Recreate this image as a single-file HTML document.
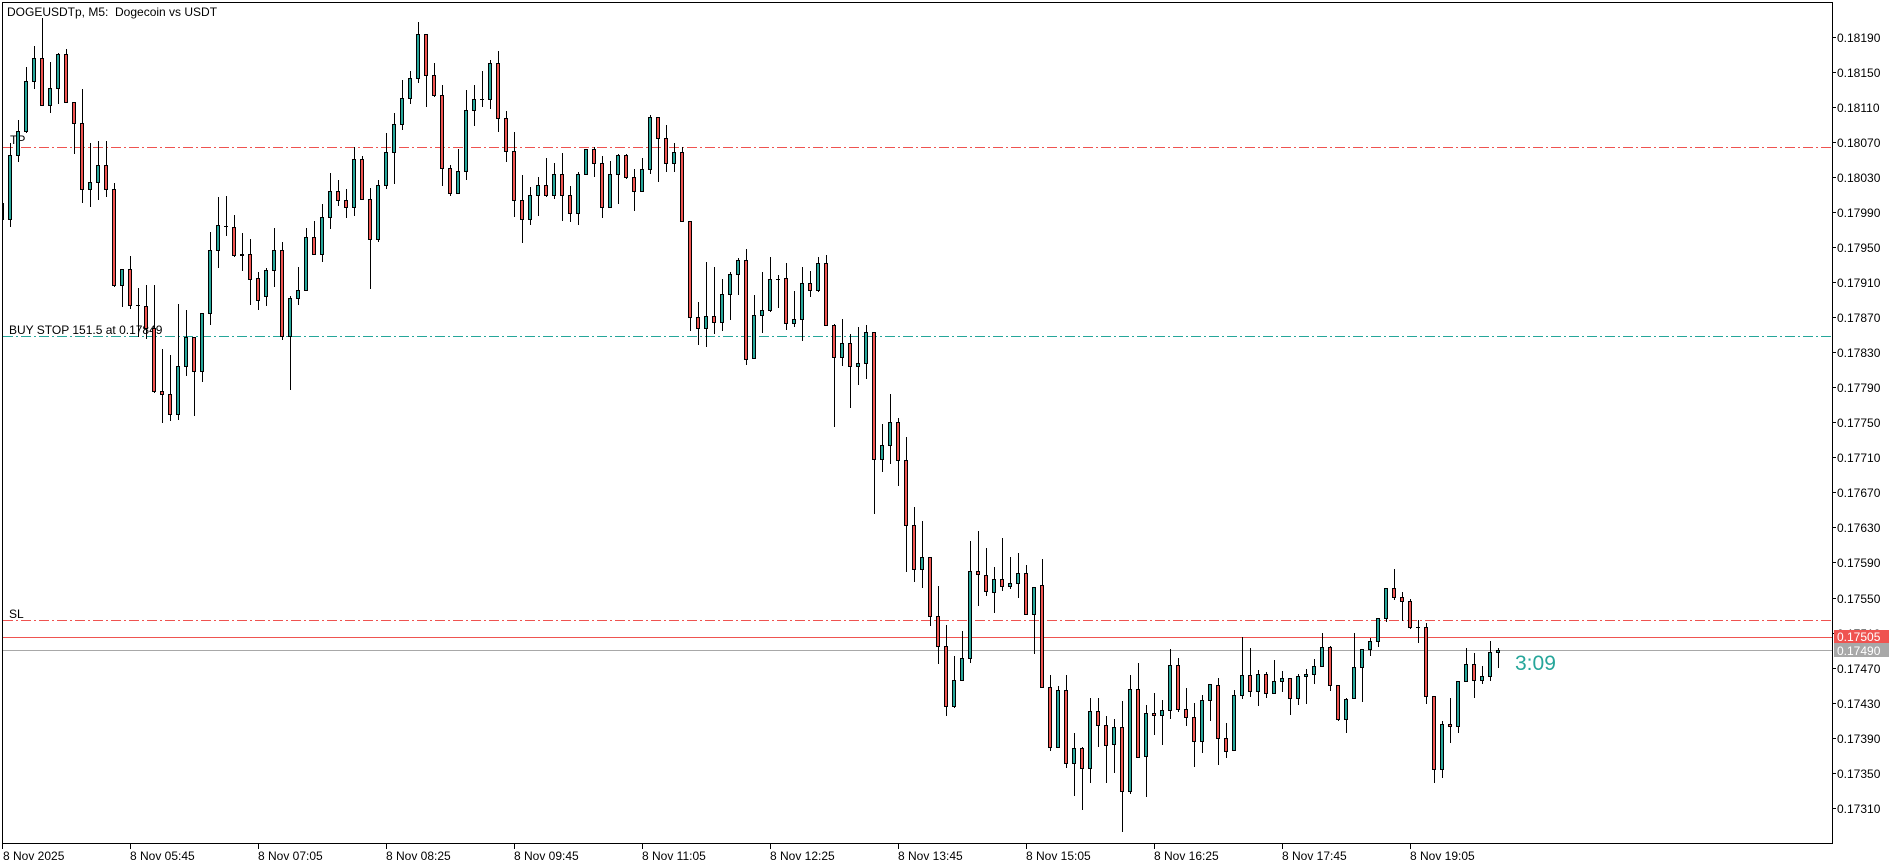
<!DOCTYPE html>
<html>
<head>
<meta charset="utf-8">
<style>
html,body{margin:0;padding:0;background:#fff;}
svg{display:block;}
text{font-family:"Liberation Sans",sans-serif;}
</style>
</head>
<body>
<svg width="1902" height="867" viewBox="0 0 1902 867" xmlns="http://www.w3.org/2000/svg">
<rect x="0" y="0" width="1902" height="867" fill="#fff"/>
<defs><clipPath id="pc"><rect x="3" y="3" width="1829" height="840"/></clipPath></defs>

<!-- level lines -->
<g shape-rendering="crispEdges">
<line x1="3" y1="147.5" x2="1832" y2="147.5" stroke="#ef5350" stroke-width="1" stroke-dasharray="10 3 2 3"/>
<line x1="3" y1="336.5" x2="1832" y2="336.5" stroke="#26a69a" stroke-width="1" stroke-dasharray="10 3 2 3"/>
<line x1="3" y1="620.5" x2="1832" y2="620.5" stroke="#ef5350" stroke-width="1" stroke-dasharray="10 3 2 3"/>
<line x1="3" y1="637.5" x2="1832" y2="637.5" stroke="#ef5350" stroke-width="1"/>
<line x1="3" y1="650.5" x2="1832" y2="650.5" stroke="#a8a8a8" stroke-width="1"/>
</g>

<!-- level labels -->
<text x="10" y="144" font-size="12" fill="#000">TP</text>
<text x="9" y="334" font-size="12" fill="#000">BUY STOP 151.5 at 0.17849</text>
<text x="9" y="618" font-size="12" fill="#000">SL</text>

<g clip-path="url(#pc)" shape-rendering="crispEdges">
<!-- wicks -->
<path fill="none" stroke="#000" stroke-width="1" d="M2.5 196V224M10.5 143V227M18.5 120V162M26.5 67V133M34.5 46V89M42.5 18V105M50.5 62V113M58.5 53V104M66.5 49V102M74.5 102V154M82.5 89V203M90.5 143V207M98.5 141V200M106.5 141V197M114.5 183V287M122.5 269V307M130.5 256V309M138.5 288V337M146.5 285V339M154.5 285V393M162.5 349V423M170.5 355V421M178.5 304V420M186.5 310V376M194.5 337V416M202.5 313V382M210.5 232V325M218.5 197V268M226.5 196V236M234.5 215V257M242.5 233V271M250.5 239V305M258.5 272V310M266.5 268V306M274.5 228V287M282.5 242V340M290.5 296V390M298.5 267V305M306.5 228V290M314.5 221V255M322.5 204V262M330.5 173V229M338.5 180V206M346.5 189V218M354.5 147V216M362.5 156V199M370.5 188V289M378.5 180V242M386.5 133V189M394.5 113V184M402.5 80V130M410.5 71V104M418.5 22V83M426.5 34V107M434.5 63V97M442.5 85V186M450.5 165V196M458.5 149V193M466.5 90V180M474.5 85V126M482.5 71V107M490.5 60V109M498.5 51V132M506.5 111V162M514.5 132V217M522.5 175V243M530.5 187V225M538.5 177V216M546.5 158V197M554.5 163V199M562.5 153V221M570.5 186V222M578.5 172V225M586.5 149V174M594.5 147V177M602.5 156V218M610.5 161V208M618.5 154V204M626.5 154V179M634.5 169V211M642.5 158V191M650.5 115V174M658.5 117V182M666.5 125V172M674.5 143V172M682.5 147V222M690.5 221V331M698.5 302V345M706.5 262V347M714.5 267V334M722.5 279V331M730.5 272V320M738.5 258V295M746.5 249V365M754.5 295V358M762.5 272V333M770.5 257V312M778.5 275V308M786.5 263V330M794.5 291V327M802.5 267V341M810.5 271V297M818.5 257V292M826.5 255V325M834.5 324V427M842.5 319V366M850.5 334V408M858.5 327V385M866.5 325V379M874.5 332V514M882.5 424V472M890.5 394V464M898.5 418V486M906.5 437V572M914.5 507V582M922.5 521V588M930.5 557V626M938.5 586V664M946.5 625V716M954.5 656V708M962.5 631V680M970.5 541V663M978.5 531V606M986.5 548V596M994.5 567V613M1002.5 538V591M1010.5 557V589M1018.5 553V598M1026.5 565V614M1034.5 587V654M1042.5 559V687M1050.5 675V751M1058.5 686V748M1066.5 675V768M1074.5 733V796M1082.5 747V810M1090.5 698V783M1098.5 698V747M1106.5 716V783M1114.5 719V773M1122.5 701V832M1130.5 675V794M1138.5 663V757M1146.5 705V797M1154.5 693V735M1162.5 700V745M1170.5 649V719M1178.5 658V712M1186.5 688V726M1194.5 703V767M1202.5 695V753M1210.5 684V721M1218.5 678V765M1226.5 723V758M1234.5 690V751M1242.5 637V699M1250.5 648V697M1258.5 670V706M1266.5 672V698M1274.5 660V693M1282.5 671V692M1290.5 678V715M1298.5 674V705M1306.5 669V704M1314.5 659V684M1322.5 633V666M1330.5 646V691M1338.5 685V721M1346.5 698V733M1354.5 633V698M1362.5 649V702M1370.5 638V656M1378.5 618V647M1386.5 588V622M1394.5 569V600M1402.5 592V621M1410.5 599V629M1418.5 620V643M1426.5 623V704M1434.5 696V783M1442.5 721V778M1450.5 698V743M1458.5 681V733M1466.5 648V681M1474.5 653V698M1482.5 666V684M1490.5 641V681M1498.5 648V668M136 305.5h4M224 226.5h4M480 99.5h4M776 279.5h4M1416 627.5h4"/>
<!-- bull bodies -->
<path fill="#26a69a" stroke="#000" stroke-width="1" d="M8.5 155.5h3v64h-3zM16.5 131.5h3v24h-3zM24.5 81.5h3v50h-3zM32.5 58.5h3v23h-3zM48.5 88.5h3v17h-3zM56.5 54.5h3v34h-3zM88.5 182.5h3v7h-3zM96.5 165.5h3v17h-3zM120.5 269.5h3v16h-3zM176.5 366.5h3v48h-3zM184.5 337.5h3v29h-3zM200.5 313.5h3v58h-3zM208.5 250.5h3v63h-3zM216.5 225.5h3v25h-3zM240.5 254.5h3v1h-3zM264.5 270.5h3v26h-3zM272.5 250.5h3v20h-3zM288.5 298.5h3v38h-3zM296.5 290.5h3v8h-3zM304.5 237.5h3v53h-3zM320.5 217.5h3v37h-3zM328.5 191.5h3v26h-3zM352.5 159.5h3v48h-3zM376.5 185.5h3v54h-3zM384.5 152.5h3v33h-3zM392.5 124.5h3v28h-3zM400.5 98.5h3v26h-3zM408.5 78.5h3v20h-3zM416.5 34.5h3v44h-3zM456.5 171.5h3v22h-3zM464.5 110.5h3v61h-3zM472.5 99.5h3v11h-3zM488.5 63.5h3v36h-3zM528.5 195.5h3v24h-3zM536.5 185.5h3v10h-3zM552.5 174.5h3v21h-3zM576.5 174.5h3v39h-3zM584.5 149.5h3v25h-3zM608.5 174.5h3v33h-3zM616.5 155.5h3v19h-3zM640.5 169.5h3v22h-3zM648.5 117.5h3v52h-3zM672.5 152.5h3v11h-3zM704.5 316.5h3v12h-3zM720.5 294.5h3v28h-3zM728.5 274.5h3v20h-3zM736.5 260.5h3v14h-3zM752.5 315.5h3v43h-3zM760.5 310.5h3v5h-3zM768.5 279.5h3v31h-3zM792.5 319.5h3v4h-3zM800.5 283.5h3v36h-3zM816.5 263.5h3v27h-3zM840.5 343.5h3v14h-3zM856.5 363.5h3v3h-3zM864.5 332.5h3v31h-3zM880.5 445.5h3v14h-3zM888.5 422.5h3v23h-3zM920.5 557.5h3v12h-3zM952.5 680.5h3v26h-3zM960.5 658.5h3v22h-3zM968.5 571.5h3v87h-3zM992.5 579.5h3v13h-3zM1008.5 583.5h3v3h-3zM1016.5 573.5h3v10h-3zM1032.5 587.5h3v27h-3zM1056.5 690.5h3v57h-3zM1072.5 748.5h3v15h-3zM1088.5 711.5h3v57h-3zM1112.5 727.5h3v17h-3zM1128.5 689.5h3v102h-3zM1144.5 713.5h3v43h-3zM1160.5 710.5h3v5h-3zM1168.5 665.5h3v45h-3zM1200.5 700.5h3v41h-3zM1208.5 684.5h3v16h-3zM1232.5 695.5h3v55h-3zM1240.5 675.5h3v20h-3zM1256.5 674.5h3v17h-3zM1272.5 681.5h3v12h-3zM1280.5 678.5h3v3h-3zM1296.5 676.5h3v22h-3zM1304.5 674.5h3v2h-3zM1312.5 666.5h3v8h-3zM1320.5 647.5h3v19h-3zM1344.5 699.5h3v20h-3zM1352.5 667.5h3v31h-3zM1360.5 649.5h3v18h-3zM1368.5 641.5h3v8h-3zM1376.5 618.5h3v23h-3zM1384.5 588.5h3v30h-3zM1440.5 724.5h3v45h-3zM1456.5 681.5h3v45h-3zM1464.5 664.5h3v17h-3zM1480.5 676.5h3v4h-3zM1488.5 652.5h3v24h-3zM1496.5 650.5h3v2h-3z"/>
<!-- bear bodies -->
<path fill="#ef5350" stroke="#000" stroke-width="1" d="M0.5 203.5h3v16h-3zM40.5 58.5h3v47h-3zM64.5 54.5h3v48h-3zM72.5 102.5h3v21h-3zM80.5 123.5h3v66h-3zM104.5 165.5h3v24h-3zM112.5 189.5h3v96h-3zM128.5 269.5h3v36h-3zM144.5 306.5h3v22h-3zM152.5 328.5h3v63h-3zM160.5 391.5h3v3h-3zM168.5 394.5h3v20h-3zM192.5 337.5h3v34h-3zM232.5 227.5h3v28h-3zM248.5 254.5h3v25h-3zM256.5 278.5h3v22h-3zM280.5 250.5h3v86h-3zM312.5 237.5h3v17h-3zM336.5 191.5h3v9h-3zM344.5 200.5h3v7h-3zM360.5 159.5h3v40h-3zM368.5 199.5h3v40h-3zM424.5 34.5h3v41h-3zM432.5 75.5h3v20h-3zM440.5 95.5h3v73h-3zM448.5 168.5h3v25h-3zM496.5 63.5h3v55h-3zM504.5 118.5h3v33h-3zM512.5 151.5h3v49h-3zM520.5 200.5h3v19h-3zM544.5 185.5h3v10h-3zM560.5 174.5h3v21h-3zM568.5 195.5h3v18h-3zM592.5 149.5h3v14h-3zM600.5 163.5h3v44h-3zM624.5 155.5h3v22h-3zM632.5 177.5h3v14h-3zM656.5 117.5h3v21h-3zM664.5 138.5h3v25h-3zM680.5 152.5h3v69h-3zM688.5 221.5h3v96h-3zM696.5 317.5h3v11h-3zM712.5 316.5h3v6h-3zM744.5 260.5h3v99h-3zM784.5 278.5h3v45h-3zM808.5 283.5h3v7h-3zM824.5 263.5h3v62h-3zM832.5 325.5h3v32h-3zM848.5 343.5h3v23h-3zM872.5 332.5h3v127h-3zM896.5 422.5h3v38h-3zM904.5 460.5h3v65h-3zM912.5 525.5h3v44h-3zM928.5 557.5h3v59h-3zM936.5 616.5h3v30h-3zM944.5 646.5h3v60h-3zM976.5 571.5h3v3h-3zM984.5 575.5h3v16h-3zM1000.5 579.5h3v7h-3zM1024.5 573.5h3v41h-3zM1040.5 585.5h3v102h-3zM1048.5 687.5h3v60h-3zM1064.5 690.5h3v73h-3zM1080.5 748.5h3v20h-3zM1096.5 711.5h3v14h-3zM1104.5 725.5h3v20h-3zM1120.5 727.5h3v64h-3zM1136.5 689.5h3v68h-3zM1152.5 713.5h3v2h-3zM1176.5 665.5h3v44h-3zM1184.5 709.5h3v8h-3zM1192.5 717.5h3v24h-3zM1216.5 685.5h3v53h-3zM1224.5 738.5h3v13h-3zM1248.5 675.5h3v16h-3zM1264.5 674.5h3v19h-3zM1288.5 678.5h3v20h-3zM1328.5 647.5h3v38h-3zM1336.5 685.5h3v34h-3zM1392.5 588.5h3v9h-3zM1400.5 597.5h3v4h-3zM1408.5 601.5h3v26h-3zM1424.5 627.5h3v69h-3zM1432.5 696.5h3v73h-3zM1448.5 724.5h3v2h-3zM1472.5 664.5h3v16h-3z"/>
</g>

<!-- frame -->
<g shape-rendering="crispEdges" stroke="#000" stroke-width="1" fill="none">
<rect x="2.5" y="2.5" width="1830" height="841"/>
</g>

<!-- price axis ticks -->
<path shape-rendering="crispEdges" stroke="#000" stroke-width="1" d="M1832 37.5h4M1832 72.5h4M1832 107.5h4M1832 142.5h4M1832 177.5h4M1832 212.5h4M1832 247.5h4M1832 282.5h4M1832 317.5h4M1832 352.5h4M1832 387.5h4M1832 422.5h4M1832 457.5h4M1832 492.5h4M1832 527.5h4M1832 562.5h4M1832 598.5h4M1832 633.5h4M1832 668.5h4M1832 703.5h4M1832 738.5h4M1832 773.5h4M1832 808.5h4"/>

<g font-size="12" fill="#000">
<text x="1837" y="42">0.18190</text>
<text x="1837" y="77">0.18150</text>
<text x="1837" y="112">0.18110</text>
<text x="1837" y="147">0.18070</text>
<text x="1837" y="182">0.18030</text>
<text x="1837" y="217">0.17990</text>
<text x="1837" y="252">0.17950</text>
<text x="1837" y="287">0.17910</text>
<text x="1837" y="322">0.17870</text>
<text x="1837" y="357">0.17830</text>
<text x="1837" y="392">0.17790</text>
<text x="1837" y="427">0.17750</text>
<text x="1837" y="462">0.17710</text>
<text x="1837" y="497">0.17670</text>
<text x="1837" y="532">0.17630</text>
<text x="1837" y="567">0.17590</text>
<text x="1837" y="603">0.17550</text>
<text x="1837" y="638">0.17510</text>
<text x="1837" y="673">0.17470</text>
<text x="1837" y="708">0.17430</text>
<text x="1837" y="743">0.17390</text>
<text x="1837" y="778">0.17350</text>
<text x="1837" y="813">0.17310</text>
</g>

<!-- current price boxes -->
<rect x="1834" y="630" width="55" height="13" fill="#ef5350"/>
<text x="1837" y="641" font-size="12" fill="#fff">0.17505</text>
<rect x="1834" y="643" width="55" height="14" fill="#a8a8a8"/>
<text x="1837" y="655" font-size="12" fill="#fff">0.17490</text>

<!-- time axis ticks -->
<path shape-rendering="crispEdges" stroke="#000" stroke-width="1" d="M2.5 843V849M130.5 843V849M258.5 843V849M386.5 843V849M514.5 843V849M642.5 843V849M770.5 843V849M898.5 843V849M1026.5 843V849M1154.5 843V849M1282.5 843V849M1410.5 843V849"/>
<g font-size="12" fill="#000">
<text x="3" y="860">8 Nov 2025</text>
<text x="130" y="860">8 Nov 05:45</text>
<text x="258" y="860">8 Nov 07:05</text>
<text x="386" y="860">8 Nov 08:25</text>
<text x="514" y="860">8 Nov 09:45</text>
<text x="642" y="860">8 Nov 11:05</text>
<text x="770" y="860">8 Nov 12:25</text>
<text x="898" y="860">8 Nov 13:45</text>
<text x="1026" y="860">8 Nov 15:05</text>
<text x="1154" y="860">8 Nov 16:25</text>
<text x="1282" y="860">8 Nov 17:45</text>
<text x="1410" y="860">8 Nov 19:05</text>
</g>

<!-- title -->
<text x="7" y="16" font-size="12" fill="#000" xml:space="preserve">DOGEUSDTp, M5:  Dogecoin vs USDT</text>

<!-- countdown -->
<text x="1515" y="670" font-size="21" fill="#26a69a">3:09</text>
</svg>
</body>
</html>
